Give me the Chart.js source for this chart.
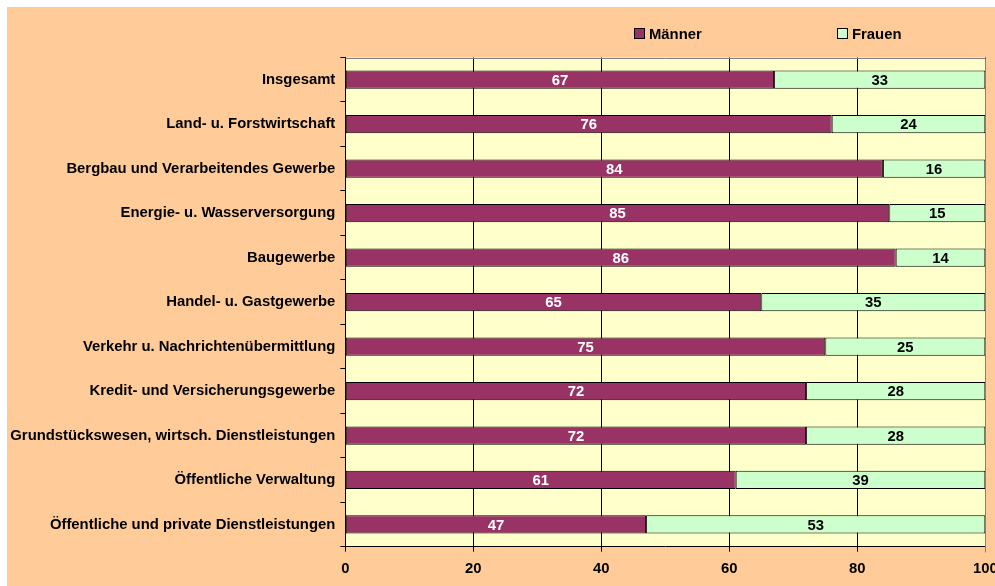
<!DOCTYPE html>
<html>
<head>
<meta charset="utf-8">
<script src="https://cdn.jsdelivr.net/npm/chart.js@4.4.1/dist/chart.umd.min.js"></script>
<style>
  html, body { margin: 0; padding: 0; background: #ffffff; }
  #wrap { position: absolute; left: 7px; top: 7px; width: 988px; height: 579px; background: #FFCC99; }
  canvas { display: block; }
</style>
</head>
<body>
<div id="wrap"><canvas id="c" width="988" height="579"></canvas></div>
<script>
const categories = [
  'Insgesamt',
  'Land- u. Forstwirtschaft',
  'Bergbau und Verarbeitendes Gewerbe',
  'Energie- u. Wasserversorgung',
  'Baugewerbe',
  'Handel- u. Gastgewerbe',
  'Verkehr u. Nachrichtenübermittlung',
  'Kredit- und Versicherungsgewerbe',
  'Grundstückswesen, wirtsch. Dienstleistungen',
  'Öffentliche Verwaltung',
  'Öffentliche und private Dienstleistungen'
];
const maenner = [67, 76, 84, 85, 86, 65, 75, 72, 72, 61, 47];
const frauen  = [33, 24, 16, 15, 14, 35, 25, 28, 28, 39, 53];
const seriesNames = ['Männer', 'Frauen'];
const xTicks = [0, 20, 40, 60, 80, 100];

const FONT = '"Liberation Sans", Arial, sans-serif';
const FSIZE = 14.85;

Chart.defaults.font.family = FONT;
Chart.defaults.font.size = FSIZE;
Chart.defaults.font.weight = 'bold';
Chart.defaults.color = '#000000';

const plotBg = {
  id: 'plotBg',
  beforeDraw(chart) {
    const a = chart.chartArea, ctx = chart.ctx;
    ctx.save();
    ctx.fillStyle = '#FFFFCC';
    ctx.fillRect(a.left, a.top, a.right - a.left, a.bottom - a.top);
    ctx.restore();
  },
  afterDraw(chart) {
    const a = chart.chartArea, ctx = chart.ctx;
    ctx.save();
    ctx.strokeStyle = '#808080';
    ctx.lineWidth = 1;
    ctx.beginPath();
    const t = Math.round(a.top) + 0.5, r = Math.round(a.right) + 0.5;
    ctx.moveTo(Math.round(a.left) + 0.5, t);
    ctx.lineTo(r, t);
    ctx.lineTo(r, Math.round(a.bottom) + 5.5);
    ctx.stroke();
    ctx.restore();
  }
};

const valueLabels = {
  id: 'valueLabels',
  afterDatasetsDraw(chart) {
    const ctx = chart.ctx;
    ctx.save();
    ctx.font = 'bold ' + FSIZE + 'px ' + FONT;
    ctx.textAlign = 'center';
    ctx.textBaseline = 'middle';
    chart.data.datasets.forEach((ds, di) => {
      const meta = chart.getDatasetMeta(di);
      ctx.fillStyle = di === 0 ? '#FFFFFF' : '#000000';
      meta.data.forEach((bar, i) => {
        const p = bar.getProps(['x', 'y', 'base'], true);
        ctx.fillText(String(ds.data[i]), (p.x + p.base) / 2, p.y + 1);
      });
    });
    ctx.restore();
  }
};

const customLegend = {
  id: 'customLegend',
  afterDraw(chart) {
    const ctx = chart.ctx;
    const items = [
      { x: 627, ds: chart.data.datasets[0] },
      { x: 830, ds: chart.data.datasets[1] }
    ];
    ctx.save();
    ctx.font = 'bold ' + FSIZE + 'px ' + FONT;
    ctx.textBaseline = 'middle';
    ctx.textAlign = 'left';
    items.forEach(it => {
      ctx.fillStyle = it.ds.backgroundColor;
      ctx.fillRect(it.x, 21.5, 10, 10);
      ctx.strokeStyle = '#000000';
      ctx.lineWidth = 1;
      ctx.strokeRect(it.x + 0.5, 21.5, 10, 10);
      ctx.fillStyle = '#000000';
      ctx.fillText(it.ds.label, it.x + 15, 27.5);
    });
    ctx.restore();
  }
};

new Chart(document.getElementById('c'), {
  type: 'bar',
  data: {
    labels: categories,
    datasets: [
      {
        label: seriesNames[0],
        data: maenner,
        backgroundColor: '#993366',
        borderColor: '#000000',
        borderWidth: 1,
        borderSkipped: false,
        barPercentage: 0.41,
        categoryPercentage: 1.0
      },
      {
        label: seriesNames[1],
        data: frauen,
        backgroundColor: '#CCFFCC',
        borderColor: '#000000',
        borderWidth: 1,
        borderSkipped: false,
        barPercentage: 0.41,
        categoryPercentage: 1.0
      }
    ]
  },
  options: {
    indexAxis: 'y',
    responsive: false,
    devicePixelRatio: 1,
    animation: false,
    layout: { padding: { top: 50.5, right: 9.7, left: 0, bottom: 0 } },
    plugins: {
      legend: { display: false },
      tooltip: { enabled: false }
    },
    scales: {
      x: {
        stacked: true,
        min: 0,
        max: 100,
        afterBuildTicks(scale) {
          scale.ticks = xTicks.map(v => ({ value: v }));
        },
        afterFit(scale) {
          scale.height = 39.3;
          scale.paddingLeft = 0;
          scale.paddingRight = 0;
        },
        grid: {
          color: '#000000',
          lineWidth: 1,
          tickLength: 5,
          drawTicks: true,
          drawOnChartArea: true
        },
        border: { display: true, color: '#000000', width: 1 },
        ticks: {
          padding: 8,
          maxRotation: 0,
          autoSkip: false,
          color: '#000000',
          font: { size: FSIZE, weight: 'bold', family: FONT }
        }
      },
      y: {
        stacked: true,
        afterFit(scale) {
          scale.width = 338.3;
        },
        grid: {
          offset: true,
          drawOnChartArea: false,
          drawTicks: true,
          tickLength: 5,
          color: '#000000'
        },
        border: { display: true, color: '#000000', width: 1 },
        ticks: {
          padding: 5,
          autoSkip: false,
          color: '#000000',
          font: { size: FSIZE, weight: 'bold', family: FONT }
        }
      }
    }
  },
  plugins: [plotBg, valueLabels, customLegend]
});
</script>
</body>
</html>
